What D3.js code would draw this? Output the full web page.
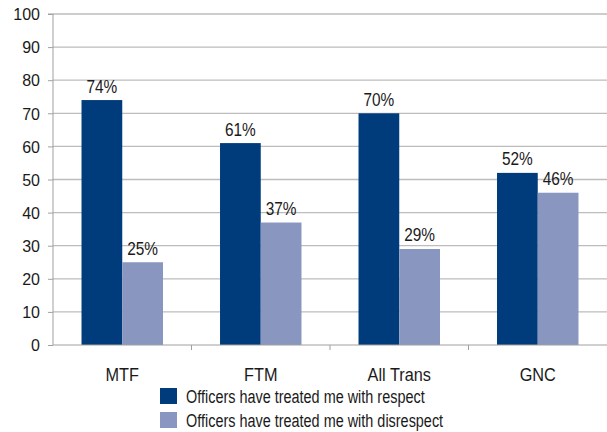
<!DOCTYPE html>
<html><head><meta charset="utf-8">
<script src="https://cdn.jsdelivr.net/npm/d3@7"></script>
<style>body{margin:0;background:#fff}svg{display:block}text{font-family:"Liberation Sans",Arial,sans-serif;fill:#1a1a1a}</style>
</head><body><svg id="c" width="607" height="432"></svg>
<script>
const categories = ["MTF", "FTM", "All Trans", "GNC"];
const seriesNames = ["Officers have treated me with respect", "Officers have treated me with disrespect"];
const respect = [74, 61, 70, 52];
const disrespect = [25, 37, 29, 46];
const yTicks = [0,10,20,30,40,50,60,70,80,90,100];
const colors = ["#003c7c", "#8896c0"];

const svg = d3.select("#c");
const m = {l:53, r:0, t:14, b:87};
const W = 607, H = 432;
const x = d3.scaleBand().domain(categories).range([m.l, W - m.r]).paddingInner(0).paddingOuter(0);
const x1 = d3.scaleBand().domain([0,1]).range([0, x.bandwidth()]).paddingInner(0).paddingOuter(0.7);
const y = d3.scaleLinear().domain([0,100]).range([H - m.b, m.t]);

// gridlines
svg.append("g").selectAll("line").data(yTicks.filter(d=>d>0)).join("line")
  .attr("x1", m.l).attr("x2", W).attr("y1", d=>y(d)).attr("y2", d=>y(d))
  .attr("stroke", "#bdbdbd").attr("stroke-width", 1.3);

const data = [respect, disrespect];
const g = svg.append("g");
categories.forEach((c,i)=>{
  [0,1].forEach(s=>{
    const v = data[s][i];
    const cx = x(c)+x1(s)+x1.bandwidth()/2;
    g.append("rect").attr("x", x(c)+x1(s)).attr("y", y(v)).attr("width", x1.bandwidth()).attr("height", y(0)-y(v)).attr("fill", colors[s]);
    g.append("text").attr("x", cx).attr("y", y(v)-7.5).attr("text-anchor","middle").attr("font-size",17.5)
      .attr("transform",`translate(${cx},0) scale(0.88,1) translate(${-cx},0)`).text(v+"%");
  });
});

// y axis
const ya = d3.axisLeft(y).tickValues(yTicks).tickSize(5).tickPadding(8);
const yg = svg.append("g").attr("transform",`translate(${m.l},0)`).call(ya);
yg.select(".domain").attr("stroke","#a0a0a0").attr("d",`M-5,${y(100)}H0V${y(0)}`);
yg.selectAll(".tick line").attr("stroke","#a0a0a0");
yg.selectAll(".tick text").attr("font-size",16).style("font-family",'"Liberation Sans",Arial,sans-serif').attr("fill","#1a1a1a").attr("dy","0.36em");

// x axis
const xa = d3.axisBottom(x).tickSize(0).tickPadding(0);
const xg = svg.append("g").attr("transform",`translate(0,${y(0)})`).call(xa);
xg.select(".domain").attr("stroke","#a0a0a0").attr("d",`M${m.l},0H${W}`);
xg.selectAll(".tick text").attr("font-size",18.5).style("font-family",'"Liberation Sans",Arial,sans-serif').attr("fill","#1a1a1a")
  .attr("dy",null).attr("y",36.5).attr("transform","scale(0.88,1)");
// category separators
svg.append("g").selectAll("line").data(categories.slice(1)).join("line")
  .attr("x1", d=>x(d)).attr("x2", d=>x(d)).attr("y1", y(0)).attr("y2", y(0)+5).attr("stroke","#a0a0a0");

// legend
const lg = svg.append("g").attr("transform","translate(160,388)");
seriesNames.forEach((n,i)=>{
  lg.append("rect").attr("x",0).attr("y",i*24).attr("width",17).attr("height",16).attr("fill",colors[i]);
  lg.append("text").attr("x",26).attr("y",i*24+14.6).attr("font-size",19).attr("transform","translate(26,0) scale(0.76,1) translate(-26,0)").text(n);
});
</script></body></html>
